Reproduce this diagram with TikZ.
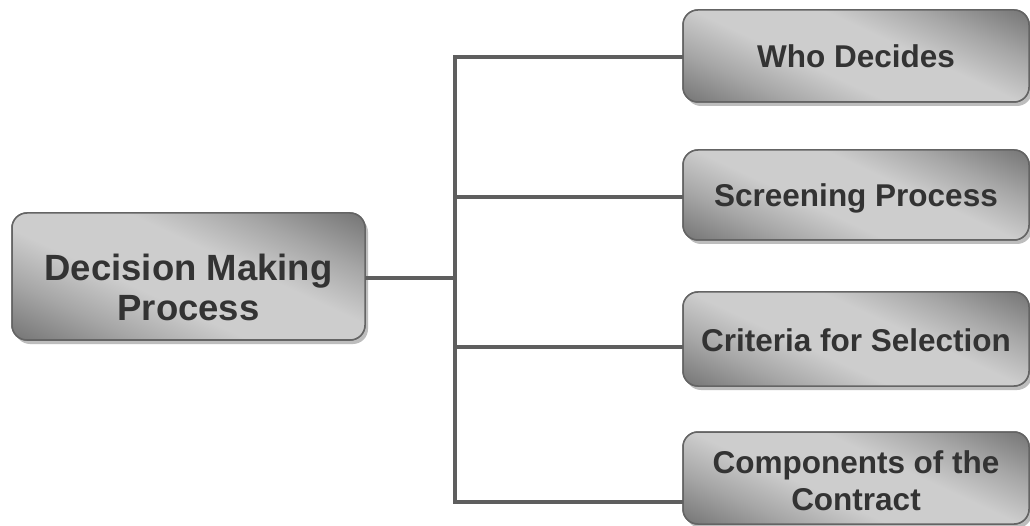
\documentclass[tikz,border=0pt]{standalone}
\usepackage{fontspec}
\setmainfont{Liberation Sans}
\usetikzlibrary{shadows}
\definecolor{edge}{HTML}{646464}
\definecolor{boxdark}{HTML}{747474}
\definecolor{boxmid}{HTML}{A6A6A6}
\definecolor{boxlight}{HTML}{CDCDCD}
\definecolor{txt}{HTML}{333333}
\definecolor{conn}{HTML}{5E5E5E}
\definecolor{shad}{HTML}{BDBDBD}
\pgfdeclareverticalshading{diaggray}{100bp}{%
  color(0bp)=(boxdark); color(25bp)=(boxdark); color(35bp)=(boxmid);
  color(44bp)=(boxlight); color(56bp)=(boxlight); color(65bp)=(boxmid);
  color(75bp)=(boxdark); color(100bp)=(boxdark)}
\tikzset{
  gbox/.style={draw=edge, line width=1.5pt, rounded corners=15pt, fill=boxlight,
    drop shadow={shadow xshift=3pt, shadow yshift=-4pt, fill=shad, opacity=1},
    inner sep=0pt, outer sep=0pt},
  gedge/.style={draw=edge, line width=1.5pt, rounded corners=15pt},
  mainbox/.style={gbox, minimum width=353pt, minimum height=127pt},
  sidebox/.style={gbox, minimum width=346pt},
  maintext/.style={text=txt, align=center, inner sep=0pt,
    font=\fontsize{36.5}{40}\selectfont\bfseries},
  sidetext/.style={text=txt, align=center, inner sep=0pt,
    font=\fontsize{31.5}{37}\selectfont\bfseries},
  conn/.style={draw=conn, line width=4pt}
}
\newcommand\grshade[2]{%
  \begin{scope}
    \clip[rounded corners=15pt] (#1.south west) rectangle (#1.north east);
    \begin{scope}[transform canvas={shift={(#1.center)}, rotate=-25}]
      \shade[shading=diaggray] (-230,-#2) rectangle (230,#2);
    \end{scope}
  \end{scope}
  \draw[gedge] (#1.south west) rectangle (#1.north east);}
\begin{document}
\begin{tikzpicture}[x=1pt,y=-1pt]
\useasboundingbox[fill=white] (0,0) rectangle (1030,526);
\node[mainbox] (m) at (188.5,276.5) {};
\node[sidebox, minimum height=92pt] (b1) at (856,56) {};
\node[sidebox, minimum height=90pt] (b2) at (856,195) {};
\node[sidebox, minimum height=94pt] (b3) at (856,339) {};
\node[sidebox, minimum height=92pt] (b4) at (856,478) {};
\grshade{m}{132}
\grshade{b1}{115}
\grshade{b2}{114}
\grshade{b3}{116}
\grshade{b4}{115}
\node[maintext] (mt) at ([yshift=-11pt]m.center) {Decision Making\\Process};
\node[sidetext] (t1x) at ([yshift=0pt]b1.center) {Who Decides};
\node[sidetext] (t2x) at ([yshift=-3pt]b2.center) {Screening Process};
\node[sidetext] (t3x) at ([yshift=-1pt]b3.center) {Criteria for Selection};
\node[sidetext] (t4x) at ([yshift=-3pt]b4.center) {Components of the\\Contract};
\coordinate (t0) at (455,278);
\coordinate (t1) at (455,57);
\coordinate (t2) at (455,197);
\coordinate (t3) at (455,347);
\coordinate (t4) at (455,502);
\draw[conn] (m.east |- t0) -- (t0);
\draw[conn, line cap=rect] (t1) -- (t4);
\draw[conn] (t1) -- (b1.west |- t1);
\draw[conn] (t2) -- (b2.west |- t2);
\draw[conn] (t3) -- (b3.west |- t3);
\draw[conn] (t4) -- (b4.west |- t4);
\end{tikzpicture}
\end{document}
